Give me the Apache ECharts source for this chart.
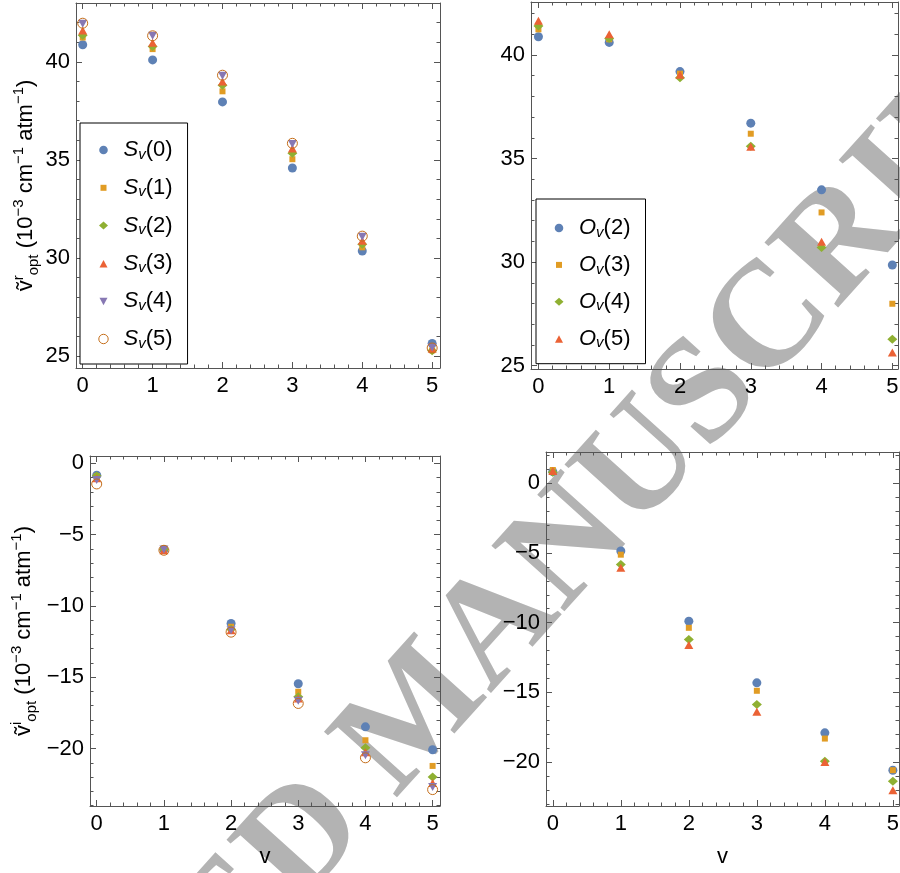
<!DOCTYPE html>
<html>
<head>
<meta charset="utf-8">
<script src="https://cdn.jsdelivr.net/npm/echarts@6/dist/echarts.min.js"></script>
<style>
  html, body { margin: 0; padding: 0; background: #ffffff; }
  #chart { width: 900px; height: 873px; }
</style>
</head>
<body>
<div id="chart"></div>
<script>
// Vibrational level v on the horizontal axis
const vLevels = [0, 1, 2, 3, 4, 5];
const xTickLabels = [0, 1, 2, 3, 4, 5];
const realTickLabels = [25, 30, 35, 40];
const imagTickLabels = [-20, -15, -10, -5, 0];

// Real part of the optical shift, S_v(n) models
const realS0 = [40.87, 40.10, 37.96, 34.59, 30.36, 25.65];
const realS1 = [41.24, 40.65, 38.50, 35.04, 30.55, 25.30];
const realS2 = [41.36, 40.78, 38.81, 35.34, 30.70, 25.28];
const realS3 = [41.60, 40.98, 39.00, 35.58, 30.88, 25.38];
const realS4 = [41.94, 41.33, 39.29, 35.82, 31.09, 25.45];
const realS5 = [41.97, 41.33, 39.32, 35.85, 31.12, 25.42];

// Real part, O_v(n) models
const realO2 = [40.88, 40.61, 39.20, 36.71, 33.49, 29.86];
const realO3 = [41.24, 40.76, 39.10, 36.20, 32.40, 27.99];
const realO4 = [41.40, 40.80, 38.90, 35.60, 30.71, 26.28];
const realO5 = [41.66, 41.00, 39.05, 35.57, 30.98, 25.64];

// Imaginary part, S_v(n) models
const imagS0 = [-0.84, -6.05, -11.23, -15.46, -18.48, -20.09];
const imagS1 = [-0.90, -6.00, -11.46, -16.02, -19.42, -21.22];
const imagS2 = [-0.90, -6.05, -11.63, -16.37, -19.95, -21.99];
const imagS3 = [-1.05, -6.10, -11.70, -16.49, -20.26, -22.41];
const imagS4 = [-1.17, -6.05, -11.70, -16.65, -20.47, -22.69];
const imagS5 = [-1.45, -6.10, -11.84, -16.84, -20.65, -22.88];

// Imaginary part, O_v(n) models
const imagO2 = [0.84, -4.86, -9.89, -14.32, -17.91, -20.59];
const imagO3 = [0.96, -5.12, -10.37, -14.89, -18.32, -20.59];
const imagO4 = [0.79, -5.82, -11.21, -15.88, -19.95, -21.38];
const imagO5 = [0.89, -6.06, -11.61, -16.40, -20.00, -22.03];

const sNames = ['Sv(0)', 'Sv(1)', 'Sv(2)', 'Sv(3)', 'Sv(4)', 'Sv(5)'];
const oNames = ['Ov(2)', 'Ov(3)', 'Ov(4)', 'Ov(5)'];

const FONT = "'Liberation Sans', Arial, 'DejaVu Sans', sans-serif";
const FRAME = '#555555';

// Marker styles: filled circle, small square, diamond, up/down triangle, open circle.
// Legend icons carry an invisible 30x10 bounding box so that each keeps its own size
// and sits centred in the icon slot.
const downTriangle = 'path://M0,0L10,0L5,9Z';
const BOX = 'path://M0,0M30,10';
const markers = [
  { symbol: 'circle', symbolSize: 9, color: '#5E81B5',
    icon: BOX + 'M10.7,5A4.3,4.3,0,1,0,19.3,5A4.3,4.3,0,1,0,10.7,5Z' },
  { symbol: 'rect', symbolSize: 6, color: '#E19C24', icon: BOX + 'M12,2L18,2L18,8L12,8Z' },
  { symbol: 'diamond', symbolSize: [10, 9], color: '#8FB032', icon: BOX + 'M10.5,5L15,1L19.5,5L15,9Z' },
  { symbol: 'triangle', symbolSize: [9, 8], color: '#EB6235', icon: BOX + 'M11,9L19,9L15,1.5Z' },
  { symbol: downTriangle, symbolSize: [9, 8], color: '#8778B3', icon: BOX + 'M11,1.5L19,1.5L15,9Z' },
  { symbol: 'circle', symbolSize: 10, color: '#C56E1A', hollow: true,
    icon: BOX + 'M10.3,5A4.7,4.7,0,1,0,19.7,5A4.7,4.7,0,1,0,10.3,5Z' }
];

function steps(from, to, step) {
  const out = [];
  for (let k = Math.ceil(from / step - 1e-9); k * step <= to + 1e-9; k++) {
    out.push(Math.round(k * step * 1000) / 1000);
  }
  return out;
}

function fmt(v) {
  return v < 0 ? '\u2212' + Math.abs(v) : String(v);
}

const grids = [
  { left: 76, top: 3, width: 364, height: 365 },
  { left: 531, top: 2, width: 367, height: 367 },
  { left: 90, top: 456, width: 350, height: 350 },
  { left: 546, top: 452, width: 353, height: 354 }
];
const xRanges = [[-0.096, 5.112], [-0.105, 5.08], [-0.1, 5.11], [-0.1, 5.09]];
const yRanges = [[24.4, 43.0], [24.84, 42.56], [-24.03, 0.51], [-23.16, 2.25]];
const yMajor = [realTickLabels, realTickLabels, imagTickLabels, imagTickLabels];

const nameRich = {
  b: { fontFamily: FONT, fontSize: 22, color: '#000', lineHeight: 30, verticalAlign: 'middle' },
  sup: { fontFamily: FONT, fontSize: 15, color: '#000', lineHeight: 16, verticalAlign: 'top' },
  sub: { fontFamily: FONT, fontSize: 15, color: '#000', lineHeight: 16, verticalAlign: 'bottom' }
};

// Each side pair gets four axes: labelled side (major + minor ticks), mirrored side (major + minor ticks)
function frameAxes(dim, gi, range, major, minor, extra) {
  const sides = dim === 'x' ? ['bottom', 'top'] : ['left', 'right'];
  const base = {
    type: 'value', gridIndex: gi, min: range[0], max: range[1],
    splitLine: { show: false }
  };
  const line = { show: true, onZero: false, lineStyle: { color: FRAME, width: 1 } };
  const noLine = { show: false, onZero: false };
  const majorTick = { show: true, inside: true, length: 6, customValues: major, lineStyle: { color: FRAME, width: 1 } };
  const minorTick = { show: true, inside: true, length: 3.5, customValues: minor, lineStyle: { color: FRAME, width: 1 } };
  return [
    Object.assign({}, base, {
      position: sides[0], axisLine: line, axisTick: majorTick,
      axisLabel: {
        show: true, customValues: major, formatter: fmt, color: '#000',
        fontFamily: FONT, fontSize: 22, margin: dim === 'x' ? 7 : 6
      }
    }, extra || {}),
    Object.assign({}, base, { position: sides[0], axisLine: noLine, axisTick: minorTick, axisLabel: { show: false } }),
    Object.assign({}, base, { position: sides[1], axisLine: line, axisTick: majorTick, axisLabel: { show: false } }),
    Object.assign({}, base, { position: sides[1], axisLine: noLine, axisTick: minorTick, axisLabel: { show: false } })
  ];
}

const xAxes = [];
const yAxes = [];
grids.forEach((g, gi) => {
  const xr = xRanges[gi], yr = yRanges[gi];
  const xExtra = gi >= 2 ? {
    name: 'v', nameLocation: 'middle', nameGap: 40,
    nameTextStyle: { fontFamily: FONT, fontSize: 22, color: '#000' }
  } : null;
  let yExtra = null;
  if (gi === 0 || gi === 2) {
    const part = gi === 0 ? 'r' : 'i';
    yExtra = {
      name: '{b|\u1E7D}{sup|' + part + '}{sub|opt}{b| (10}{sup|\u22123}{b| cm}{sup|\u22121}{b| atm}{sup|\u22121}{b|)}',
      nameLocation: 'middle', nameRotate: 90, nameGap: gi === 0 ? 35 : 51,
      nameTextStyle: { rich: nameRich }
    };
  }
  xAxes.push(...frameAxes('x', gi, xr, xTickLabels, steps(xr[0], xr[1], 0.2), xExtra));
  yAxes.push(...frameAxes('y', gi, yr, yMajor[gi], steps(yr[0], yr[1], 1), yExtra));
});

function styleFor(m) {
  return m.hollow
    ? { color: 'rgba(255,255,255,0)', borderColor: m.color, borderWidth: 1, opacity: 1 }
    : { color: m.color, opacity: 1 };
}

function makeSeries(name, values, m, gi) {
  return {
    type: 'scatter', name: name,
    xAxisIndex: gi * 4, yAxisIndex: gi * 4,
    data: vLevels.map((v, i) => [v, values[i]]),
    symbol: m.symbol, symbolSize: m.symbolSize,
    itemStyle: styleFor(m),
    emphasis: { disabled: true },
    animation: false
  };
}

const series = [];
[realS0, realS1, realS2, realS3, realS4, realS5].forEach((d, i) => series.push(makeSeries(sNames[i], d, markers[i], 0)));
[realO2, realO3, realO4, realO5].forEach((d, i) => series.push(makeSeries(oNames[i], d, markers[i], 1)));
[imagS0, imagS1, imagS2, imagS3, imagS4, imagS5].forEach((d, i) => series.push(makeSeries(sNames[i], d, markers[i], 2)));
[imagO2, imagO3, imagO4, imagO5].forEach((d, i) => series.push(makeSeries(oNames[i], d, markers[i], 3)));

const legendRich = {
  it: { fontFamily: FONT, fontSize: 22, fontStyle: 'italic', color: '#000', lineHeight: 24, verticalAlign: 'middle' },
  sb: { fontFamily: FONT, fontSize: 15, fontStyle: 'italic', color: '#000', lineHeight: 12, verticalAlign: 'bottom' },
  n: { fontFamily: FONT, fontSize: 22, color: '#000', lineHeight: 24, verticalAlign: 'middle' }
};
function legendFormatter(name) {
  // 'Sv(0)' -> S with subscript v, then (0)
  return '{it|' + name[0] + '}{sb|v}{n|' + name.slice(2) + '}';
}
function legendBox(names, left, top, padding, gap) {
  return {
    orient: 'vertical', left: left, top: top, padding: padding, itemGap: gap,
    itemWidth: 30, itemHeight: 10,
    borderColor: '#000', borderWidth: 1, backgroundColor: '#fff',
    selectedMode: false,
    data: names.map((n, i) => ({ name: n, icon: markers[i].icon, itemStyle: styleFor(markers[i]) })),
    formatter: legendFormatter,
    textStyle: { rich: legendRich }
  };
}

const option = {
  backgroundColor: '#ffffff',
  animation: false,
  grid: grids.map(g => Object.assign({ containLabel: false, outerBoundsMode: 'none' }, g)),
  xAxis: xAxes,
  yAxis: yAxes,
  legend: [
    legendBox(sNames, 80, 123, [16, 15, 13, 8], 14.8),
    legendBox(oNames, 536, 199, [18, 15, 13, 8], 13.9)
  ],
  graphic: {
    elements: [{
      type: 'text', x: 418, y: 716, rotation: 48 * Math.PI / 180, z: -10, silent: true,
      style: {
        text: 'ACCEPTED MANUSCRIPT',
        font: "bold 150px 'Liberation Serif', 'Times New Roman', serif",
        fill: '#b3b3b3', textAlign: 'center', textVerticalAlign: 'middle'
      }
    }]
  },
  series: series
};

const chart = echarts.init(document.getElementById('chart'), null, { renderer: 'canvas' });
chart.setOption(option);
</script>
</body>
</html>
